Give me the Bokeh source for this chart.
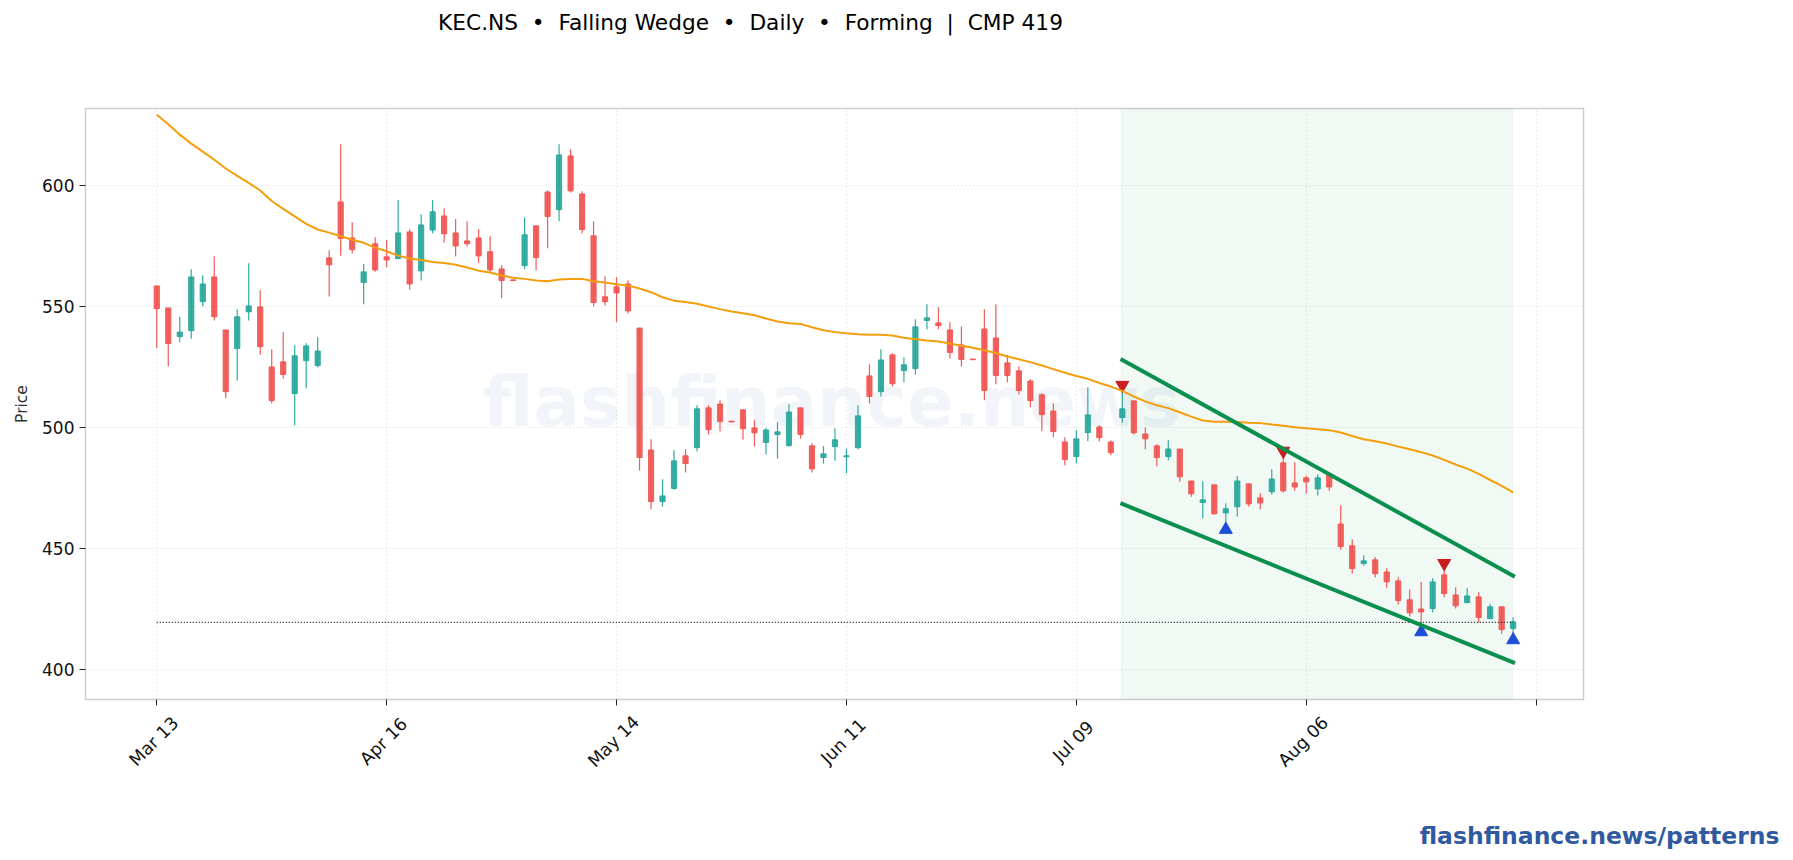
"""KEC.NS falling wedge candlestick chart."""
import math

from bokeh.core.properties import value
from bokeh.embed import file_html
from bokeh.layouts import column, row
from bokeh.models import BoxAnnotation, ColumnDataSource, FixedTicker, Label, Range1d
from bokeh.plotting import figure
from bokeh.resources import INLINE

opens = [
    558.4, 549.3, 537.5, 539.9, 551.9, 562.1, 540.2, 532.5, 547.7, 549.7,
    524.9, 527.0, 513.9, 527.5, 525.5, 570.0, 593.1, 578.2, 559.8, 575.8,
    570.4, 569.7, 580.7, 564.6, 581.5, 587.3, 580.3, 577.0, 578.2, 572.5,
    565.4, 560.9, 566.8, 583.2, 597.2, 589.9, 612.1, 596.4, 579.1, 553.9,
    558.0, 559.2, 541.0, 490.6, 469.3, 474.7, 488.2, 491.6, 508.0, 509.6,
    502.5, 507.2, 499.7, 493.7, 497.0, 492.4, 508.0, 492.3, 487.5, 492.0,
    487.8, 491.6, 521.2, 514.7, 529.9, 523.4, 524.2, 544.1, 543.1, 540.2,
    534.0, 528.2, 540.6, 536.9, 526.6, 523.3, 519.1, 513.4, 506.7, 493.9,
    487.9, 497.8, 500.1, 493.9, 504.0, 510.9, 497.2, 492.3, 487.9, 491.0,
    477.8, 468.9, 476.2, 464.6, 467.1, 476.6, 470.8, 473.3, 485.3, 477.0,
    479.1, 474.5, 480.7, 460.0, 451.0, 443.7, 445.2, 440.2, 436.5, 428.7,
    424.9, 425.1, 439.0, 430.7, 427.5, 429.9, 420.9, 425.8, 416.8,
]
highs = [
    558.4, 549.3, 545.5, 565.3, 562.8, 570.7, 540.2, 548.8, 567.8, 556.6,
    532.2, 539.3, 533.9, 534.7, 537.2, 573.1, 616.9, 584.7, 567.4, 578.5,
    577.4, 593.9, 581.8, 588.0, 593.9, 590.5, 586.0, 585.1, 581.8, 579.1,
    566.9, 560.9, 586.8, 583.5, 597.9, 616.9, 614.9, 597.5, 585.1, 562.4,
    562.0, 560.7, 541.0, 495.0, 478.5, 490.5, 490.9, 509.1, 509.1, 511.2,
    502.5, 507.4, 502.9, 499.6, 502.1, 509.5, 508.0, 493.4, 492.2, 499.6,
    491.2, 509.1, 526.0, 532.2, 530.6, 528.9, 544.6, 550.8, 549.6, 543.4,
    541.7, 528.2, 548.8, 550.8, 529.8, 525.2, 519.8, 514.0, 509.9, 495.9,
    498.8, 516.5, 500.8, 494.6, 515.2, 510.9, 499.9, 493.0, 494.6, 491.0,
    477.8, 477.7, 476.2, 468.6, 479.8, 476.6, 472.7, 482.6, 487.9, 485.5,
    480.0, 480.6, 481.0, 467.8, 453.7, 447.1, 446.4, 441.7, 438.0, 433.0,
    436.0, 437.6, 441.3, 433.9, 433.5, 431.8, 427.0, 425.8, 421.5,
]
lows = [
    532.6, 525.2, 535.1, 536.6, 550.0, 544.1, 512.0, 519.3, 544.1, 530.0,
    509.8, 520.1, 500.8, 516.1, 524.7, 554.0, 570.9, 571.8, 550.8, 564.2,
    566.1, 569.7, 556.9, 560.6, 580.2, 576.3, 570.5, 574.7, 568.0, 564.2,
    553.3, 560.6, 565.3, 564.9, 574.0, 585.1, 597.0, 580.0, 549.9, 550.3,
    543.4, 547.0, 482.1, 466.1, 467.2, 474.2, 481.3, 490.0, 497.0, 498.2,
    502.2, 494.9, 492.0, 488.7, 487.0, 492.0, 495.3, 481.3, 485.0, 486.2,
    481.0, 490.8, 509.9, 512.7, 516.8, 518.6, 521.8, 540.5, 540.5, 528.4,
    525.1, 527.9, 511.2, 517.8, 518.6, 513.5, 508.3, 498.3, 495.9, 484.3,
    485.1, 494.2, 494.2, 488.4, 501.9, 497.0, 490.9, 483.9, 486.4, 477.5,
    471.3, 462.4, 463.9, 460.3, 463.1, 467.2, 466.1, 472.2, 473.0, 473.8,
    472.6, 471.8, 473.8, 449.4, 439.5, 442.8, 437.9, 433.5, 426.7, 421.8,
    416.9, 423.4, 429.8, 425.1, 427.5, 419.3, 420.9, 414.7, 414.0,
]
closes = [
    549.0, 534.6, 539.3, 562.1, 559.2, 545.7, 514.7, 545.6, 550.1, 533.3,
    511.0, 521.8, 529.5, 533.6, 531.5, 567.1, 578.0, 573.4, 564.2, 565.0,
    569.1, 580.3, 559.2, 583.6, 589.0, 579.9, 574.9, 575.8, 570.8, 565.0,
    560.6, 560.6, 579.5, 570.1, 587.1, 612.5, 597.7, 581.7, 551.5, 551.9,
    555.5, 548.1, 487.5, 469.3, 471.6, 486.1, 485.0, 507.6, 499.0, 502.3,
    502.2, 499.4, 497.7, 498.9, 498.1, 506.3, 497.0, 482.8, 489.0, 494.8,
    488.2, 504.7, 512.7, 527.8, 518.0, 525.8, 541.5, 545.2, 542.0, 530.9,
    528.0, 527.9, 515.2, 521.4, 521.4, 515.2, 511.0, 505.2, 498.2, 486.6,
    495.2, 505.1, 495.7, 489.5, 507.6, 497.7, 495.2, 487.5, 491.0, 479.5,
    472.5, 470.0, 464.2, 466.3, 477.8, 468.3, 468.7, 478.6, 473.7, 475.3,
    477.4, 479.1, 475.3, 450.7, 441.6, 444.8, 439.5, 436.1, 428.4, 423.3,
    423.7, 436.1, 431.3, 426.2, 430.3, 421.4, 425.8, 416.4, 419.6,
]
moving_avg = [
    629.1, 625.2, 620.9, 617.2, 613.9, 610.5, 606.9, 603.9, 601.0, 597.8,
    593.5, 590.2, 587.1, 584.0, 581.7, 580.4, 578.9, 577.5, 576.2, 574.2,
    572.7, 570.9, 569.7, 569.1, 568.3, 567.9, 567.1, 566.0, 564.7, 563.9,
    562.7, 561.8, 561.3, 560.6, 560.3, 561.0, 561.3, 561.3, 560.3, 559.8,
    559.1, 558.5, 557.3, 555.8, 553.7, 552.3, 551.7, 551.0, 549.9, 548.8,
    547.8, 547.1, 546.3, 544.9, 543.7, 543.0, 542.7, 541.3, 540.1, 539.3,
    538.8, 538.4, 538.2, 538.2, 537.9, 537.0, 536.4, 535.8, 535.4, 534.6,
    533.7, 532.8, 531.8, 530.7, 529.2, 528.1, 526.9, 525.5, 524.0, 522.5,
    521.2, 520.0, 518.3, 516.8, 515.0, 512.7, 510.7, 509.1, 507.9, 506.2,
    504.4, 502.8, 502.3, 502.3, 502.2, 501.9, 501.7, 501.1, 500.6, 500.0,
    499.6, 499.2, 498.8, 497.8, 496.4, 495.0, 494.2, 493.3, 492.0, 490.9,
    489.7, 488.3, 486.5, 484.6, 482.9, 480.7, 478.2, 475.8, 473.1,
]

tick_index = [0, 20, 40, 60, 80, 100, 120]
tick_labels = ["Mar 13", "Apr 16", "May 14", "Jun 11", "Jul 09", "Aug 06", ""]
price_ticks = [400, 450, 500, 550, 600]

wedge_x = [84, 118]
wedge_upper = [527.8, 438.6]
wedge_lower = [468.3, 402.8]
cmp_price = 419.4

pivot_high_x = [84, 98, 112]
pivot_high_y = [517.4, 490.2, 443.8]
pivot_low_x = [93, 110, 118]
pivot_low_y = [457.7, 415.4, 412.1]

UP = "#26a69a"
DOWN = "#ef5350"
FONT = "DejaVu Sans"
WIDTH = 1785
X_START, X_END = -6.2, 124.12
BORDER_LEFT, BORDER_RIGHT = 85, 202

index = list(range(len(closes)))
source = ColumnDataSource(
    data={
        "x": index,
        "high": highs,
        "low": lows,
        "top": [max(o, c) for o, c in zip(opens, closes)],
        "bottom": [min(o, c) for o, c in zip(opens, closes)],
        "color": [UP if c >= o else DOWN for o, c in zip(opens, closes)],
    }
)


def text_strip(height, x_range):
    # figure with no furniture, only there to hold text outside the chart frame
    fig = figure(
        width=WIDTH,
        height=height,
        output_backend="svg",
        toolbar_location=None,
        x_range=x_range,
        y_range=Range1d(height, 0),
        x_axis_location=None,
        y_axis_location=None,
        min_border=0,
    )
    fig.grid.visible = False
    fig.outline_line_color = None
    return fig


header = text_strip(100, Range1d(0, WIDTH))
header.text(
    x=[750],
    y=[22],
    # nbsp keeps the wide gaps, svg text collapses plain runs of spaces
    text=["KEC.NS \u00a0•\u00a0 Falling Wedge \u00a0•\u00a0 Daily \u00a0•\u00a0 Forming \u00a0|\u00a0 CMP 419"],
    text_font=value(FONT),
    text_font_size="21.7px",
    text_color="#000000",
    text_align="center",
    text_baseline="middle",
)

p = figure(
    width=WIDTH,
    height=610,
    output_backend="svg",
    toolbar_location=None,
    x_range=Range1d(X_START, X_END),
    y_range=Range1d(387.5, 631.7),
    min_border_left=BORDER_LEFT,
    min_border_right=BORDER_RIGHT,
    min_border_top=8,
    min_border_bottom=11,
)
p.background_fill_color = "white"
p.outline_line_color = "#cfcfcf"
p.outline_line_width = 1.5

p.xgrid.ticker = FixedTicker(ticks=tick_index)
p.ygrid.ticker = FixedTicker(ticks=price_ticks)
for grid in (p.xgrid, p.ygrid):
    grid.grid_line_color = "#d8d8d8"
    grid.grid_line_dash = "1 3"
    grid.grid_line_width = 1

p.xaxis.ticker = FixedTicker(ticks=tick_index)
p.xaxis.major_label_overrides = {t: "" for t in tick_index}
p.xaxis.major_label_standoff = 0
p.yaxis.ticker = FixedTicker(ticks=price_ticks)
p.yaxis.axis_label = "Price"
p.yaxis.axis_label_text_font = FONT
p.yaxis.axis_label_text_font_size = "15.5px"
p.yaxis.axis_label_text_font_style = "normal"
p.yaxis.axis_label_text_color = "#333333"
p.yaxis.axis_label_standoff = 8
p.yaxis.major_label_text_font = FONT
p.yaxis.major_label_text_font_size = "17px"
p.yaxis.major_label_text_color = "#111111"
p.yaxis.major_label_standoff = 5
for axis in (p.xaxis, p.yaxis):
    axis.axis_line_color = None
    axis.major_tick_line_color = "#222222"
    axis.major_tick_line_width = 1
    axis.major_tick_out = 6
    axis.major_tick_in = 0
    axis.minor_tick_line_color = None

p.add_layout(
    BoxAnnotation(
        left=wedge_x[0] - 0.1,
        right=wedge_x[1] - 0.05,
        fill_color="#0f9d58",
        fill_alpha=0.06,
        line_color="#0f9d58",
        line_alpha=0.05,
        level="underlay",
    )
)
p.add_layout(
    Label(
        x=831 - 85,
        y=699.5 - 402,
        x_units="screen",
        y_units="screen",
        text="flashfinance.news",
        text_font=FONT,
        text_font_style="bold",
        text_font_size="69px",
        text_color="#3b5fa8",
        text_alpha=0.07,
        text_align="center",
        text_baseline="middle",
        level="underlay",
    )
)

p.segment("x", "high", "x", "low", source=source, color="color", line_width=1.2, line_alpha=0.95)
p.vbar(
    x="x",
    top="top",
    bottom="bottom",
    width=0.45,
    source=source,
    fill_color="color",
    line_color="color",
    fill_alpha=0.9,
    line_alpha=0.9,
)
p.line([index[0], index[-1]], [cmp_price, cmp_price], line_color="#111111", line_width=1.2, line_dash="1 2")
p.scatter(pivot_high_x, pivot_high_y, marker="inverted_triangle", size=13, color="#c81e1e")
p.scatter(pivot_low_x, pivot_low_y, marker="triangle", size=13, color="#1d4ed8")
p.line(index, moving_avg, line_color="#f59e0b", line_width=2)
p.line(wedge_x, wedge_upper, line_color="#0b8f4f", line_width=4, line_cap="square")
p.line(wedge_x, wedge_lower, line_color="#0b8f4f", line_width=4, line_cap="square")

# rotated tick labels live in the strip below, the axis can't centre them on a tick
units_per_px = (X_END - X_START) / (WIDTH - BORDER_LEFT - BORDER_RIGHT)
footer = text_strip(
    142,
    Range1d(X_START - BORDER_LEFT * units_per_px, X_END + BORDER_RIGHT * units_per_px),
)
footer.extra_x_ranges["px"] = Range1d(0, WIDTH)
footer.text(
    x=tick_index[:-1],
    y=[31] * 6,
    text=tick_labels[:-1],
    angle=math.pi / 4,
    x_offset=-3,
    text_font=value(FONT),
    text_font_size="17.5px",
    text_color="#111111",
    text_align="center",
    text_baseline="middle",
)
footer.text(
    x=[1779],
    y=[125],
    text=["flashfinance.news/patterns"],
    x_range_name="px",
    text_font=value(FONT),
    text_font_style="bold",
    text_font_size="23.5px",
    text_color="#2f5aa0",
    text_align="right",
    text_baseline="middle",
)

# wrapped in rows so the outer column doesn't line the three frames up
page = column(row(header), row(p), row(footer), spacing=0)
open("out.html", "w").write(file_html(page, INLINE))
